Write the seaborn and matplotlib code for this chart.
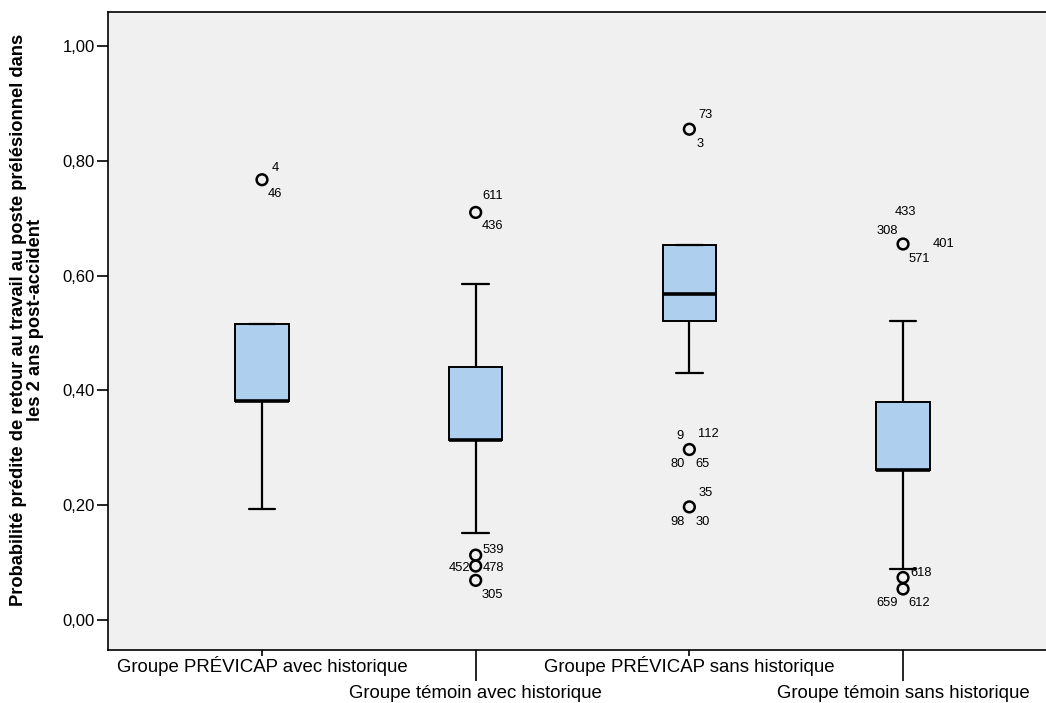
import matplotlib
matplotlib.use("Agg")
import matplotlib.pyplot as plt
import seaborn as sns
import pandas as pd

# ---- data ----
categories = ["Groupe PRÉVICAP avec historique",
              "Groupe témoin avec historique",
              "Groupe PRÉVICAP sans historique",
              "Groupe témoin sans historique"]
whisker_low  = [0.193, 0.152, 0.430, 0.089]
q1           = [0.382, 0.314, 0.521, 0.261]
median       = [0.382, 0.314, 0.568, 0.261]
q3           = [0.516, 0.441, 0.653, 0.379]
whisker_high = [0.516, 0.585, 0.653, 0.521]

out_group  = [0, 1, 1, 1, 1, 2, 2, 2, 3, 3, 3]
out_value  = [0.767, 0.710, 0.113, 0.094, 0.069, 0.855, 0.297, 0.197, 0.655, 0.074, 0.054]
out_labels = [["4", "46"], ["611", "436"], ["539"], ["452", "478"], ["305"],
              ["73", "3"], ["9", "112", "80", "65"], ["35", "98", "30"],
              ["433", "308", "401", "571"], ["618"], ["659", "612"]]

yticks = [0.0, 0.2, 0.4, 0.6, 0.8, 1.0]
ytick_labels = ["0,00", "0,20", "0,40", "0,60", "0,80", "1,00"]
ylabel = "Probabilité prédite de retour au travail au poste prélésionnel dans\nles 2 ans post-accident"

# ---- label layout (pixel offsets from each circle: dx, dy-down, ha) ----
label_layout = [
    [(10, -12, "left"), (6, 14, "left")],
    [(7, -16, "left"), (6, 14, "left")],
    [(7, -5, "left")],
    [(-5, 1.5, "right"), (7, 1.5, "left")],
    [(6, 15, "left")],
    [(9, -14, "left"), (7, 15, "left")],
    [(-9, -14, "center"), (9, -16, "left"), (-12, 14, "center"), (13, 14, "center")],
    [(16, -14, "center"), (-12, 15, "center"), (13, 15, "center")],
    [(2, -32, "center"), (-16, -13, "center"), (41, 0, "center"), (16, 15, "center")],
    [(7, -5, "left")],
    [(-16, 14, "center"), (16, 14, "center")],
]

# ---- build long table of box values ----
rows = []
for i, c in enumerate(categories):
    for v in (whisker_low[i], q1[i], median[i], q3[i], whisker_high[i]):
        rows.append({"group": c, "value": v})
df = pd.DataFrame(rows)

sns.set_style("white")
plt.rcParams["font.family"] = ["Liberation Sans", "DejaVu Sans"]
plt.rcParams["text.color"] = "black"
plt.rcParams["axes.labelcolor"] = "black"
plt.rcParams["xtick.color"] = "black"
plt.rcParams["ytick.color"] = "black"

fig = plt.figure(figsize=(10.46, 7.03), dpi=100)
ax = fig.add_axes([108 / 1046, 53 / 703, 938 / 1046, 638 / 703])
ax.set_facecolor("#f0f0f0")

sns.boxplot(data=df, x="group", y="value", order=categories, ax=ax,
            whis=(0, 100), width=0.25, color="#aed0ee", saturation=1,
            linecolor="black", showfliers=False,
            boxprops=dict(linewidth=1.4, edgecolor="black"),
            medianprops=dict(linewidth=2.6, color="black"),
            whiskerprops=dict(linewidth=1.6, color="black"),
            capprops=dict(linewidth=1.6, color="black"))

ax.scatter(out_group, out_value, s=60, facecolors="none", edgecolors="black",
           linewidths=1.8, zorder=5)

for g, v, labs, lay in zip(out_group, out_value, out_labels, label_layout):
    for txt, (dx, dy, ha) in zip(labs, lay):
        ax.annotate(txt, (g, v), xytext=(dx, -dy), textcoords="offset pixels",
                    ha=ha, va="center", fontsize=9.3, color="black")

ax.set_xlim(-0.7207, 3.669)
ax.set_ylim(-0.0523, 1.0592)
ax.set_yticks(yticks)
ax.set_yticklabels(ytick_labels, fontsize=12)

ax.set_xticks([0, 2])
ax.set_xticklabels([categories[0], categories[2]], fontsize=13.4)
ax.set_xticks([1, 3], minor=True)
ax.set_xticklabels([categories[1], categories[3]], minor=True, fontsize=13.4)
ax.tick_params(axis="x", which="major", bottom=True, length=4, width=1.2,
               pad=0.5, color="black", labelcolor="black")
ax.tick_params(axis="x", which="minor", bottom=True, length=22, width=1.2,
               pad=3.5, color="black", labelcolor="black")
ax.tick_params(axis="y", left=True, length=8, width=1.2, pad=1.5,
               color="black", labelcolor="black")

ax.set_xlabel("")
ax.set_ylabel(ylabel, fontsize=13.2, fontweight="bold", linespacing=1.05,
              color="black")
ax.yaxis.set_label_coords(-0.068, 0.517)

for s in ["left", "bottom", "top"]:
    ax.spines[s].set_visible(True)
    ax.spines[s].set_color("black")
    ax.spines[s].set_linewidth(1.2)
ax.spines["right"].set_visible(False)

fig.savefig("out.png", dpi=100, facecolor="white")
